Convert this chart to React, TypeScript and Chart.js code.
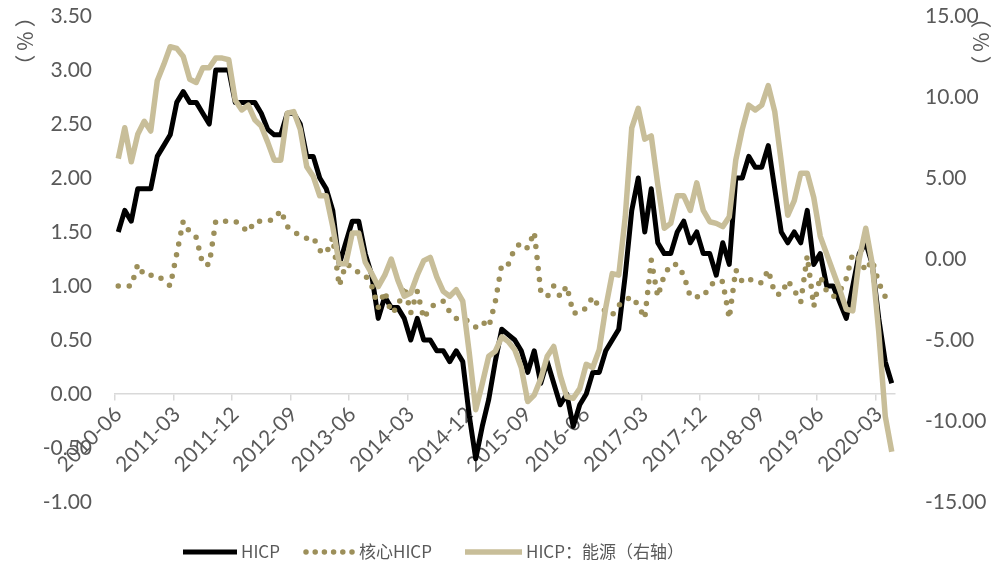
import React, { useEffect, useRef } from "react";
import { Chart, registerables } from "chart.js";

Chart.register(...registerables);

// Categories: monthly, 2010-06 .. 2020-05
const months = [
  "2010-06", "2010-07", "2010-08", "2010-09", "2010-10", "2010-11", "2010-12",
  "2011-01", "2011-02", "2011-03", "2011-04", "2011-05", "2011-06", "2011-07", "2011-08", "2011-09", "2011-10", "2011-11", "2011-12",
  "2012-01", "2012-02", "2012-03", "2012-04", "2012-05", "2012-06", "2012-07", "2012-08", "2012-09", "2012-10", "2012-11", "2012-12",
  "2013-01", "2013-02", "2013-03", "2013-04", "2013-05", "2013-06", "2013-07", "2013-08", "2013-09", "2013-10", "2013-11", "2013-12",
  "2014-01", "2014-02", "2014-03", "2014-04", "2014-05", "2014-06", "2014-07", "2014-08", "2014-09", "2014-10", "2014-11", "2014-12",
  "2015-01", "2015-02", "2015-03", "2015-04", "2015-05", "2015-06", "2015-07", "2015-08", "2015-09", "2015-10", "2015-11", "2015-12",
  "2016-01", "2016-02", "2016-03", "2016-04", "2016-05", "2016-06", "2016-07", "2016-08", "2016-09", "2016-10", "2016-11", "2016-12",
  "2017-01", "2017-02", "2017-03", "2017-04", "2017-05", "2017-06", "2017-07", "2017-08", "2017-09", "2017-10", "2017-11", "2017-12",
  "2018-01", "2018-02", "2018-03", "2018-04", "2018-05", "2018-06", "2018-07", "2018-08", "2018-09", "2018-10", "2018-11", "2018-12",
  "2019-01", "2019-02", "2019-03", "2019-04", "2019-05", "2019-06", "2019-07", "2019-08", "2019-09", "2019-10", "2019-11", "2019-12",
  "2020-01", "2020-02", "2020-03", "2020-04", "2020-05",
];

// HICP, % (left axis)
const hicp = [
  1.5, 1.7, 1.6, 1.9, 1.9, 1.9, 2.2,
  2.3, 2.4, 2.7, 2.8, 2.7, 2.7, 2.6, 2.5, 3.0, 3.0, 3.0, 2.7,
  2.7, 2.7, 2.7, 2.6, 2.45, 2.4, 2.4, 2.6, 2.6, 2.5, 2.2, 2.2,
  2.0, 1.9, 1.7, 1.2, 1.4, 1.6, 1.6, 1.3, 1.1, 0.7, 0.9, 0.8,
  0.8, 0.7, 0.5, 0.7, 0.5, 0.5, 0.4, 0.4, 0.3, 0.4, 0.3, -0.2,
  -0.6, -0.3, -0.05, 0.3, 0.6, 0.55, 0.5, 0.4, 0.2, 0.4, 0.1, 0.3,
  0.1, -0.1, 0.0, -0.3, -0.1, 0.0, 0.2, 0.2, 0.4, 0.5, 0.6, 1.1,
  1.7, 2.0, 1.5, 1.9, 1.4, 1.3, 1.3, 1.5, 1.6, 1.4, 1.5, 1.3,
  1.3, 1.1, 1.4, 1.2, 2.0, 2.0, 2.2, 2.1, 2.1, 2.3, 1.9, 1.5,
  1.4, 1.5, 1.4, 1.7, 1.2, 1.3, 1.0, 1.0, 0.85, 0.7, 1.0, 1.3,
  1.4, 1.2, 0.7, 0.3, 0.1,
];

// Core HICP, % (left axis)
const coreHicp = [
  1.0, 1.0, 1.0, 1.2, 1.1, 1.1, 1.1,
  1.05, 1.0, 1.3, 1.6, 1.5, 1.45, 1.2, 1.2, 1.6, 1.6, 1.6, 1.6,
  1.55, 1.5, 1.6, 1.6, 1.6, 1.62, 1.7, 1.55, 1.5, 1.47, 1.44, 1.45,
  1.33, 1.3, 1.45, 1.0, 1.2, 1.18, 1.12, 1.1, 1.0, 0.8, 0.95, 0.75,
  0.8, 1.0, 0.75, 0.95, 0.7, 0.8, 0.84, 0.86, 0.76, 0.7, 0.7, 0.67,
  0.62, 0.67, 0.62, 0.85, 1.2, 1.2, 1.35, 1.4, 1.35, 1.5, 0.95, 0.9,
  1.0, 0.9, 1.0, 0.75, 0.75, 0.8, 0.9, 0.8, 0.77, 0.73, 0.82, 0.87,
  0.9, 0.82, 0.7, 1.24, 0.9, 1.1, 1.2, 1.2, 1.1, 0.9, 0.9, 0.9,
  1.0, 1.05, 1.04, 0.7, 1.15, 1.04, 1.07, 1.03, 1.03, 1.15, 0.93, 0.92,
  1.05, 0.96, 0.85, 1.28, 0.81, 1.09, 0.95, 0.9, 0.95, 1.07, 1.3, 1.25,
  1.14, 1.24, 1.03, 0.9, 0.9,
];

// HICP: energy, % (right axis)
const energy = [
  6.2, 8.1, 6.0, 7.7, 8.5, 7.9, 11.0,
  12.0, 13.1, 13.0, 12.5, 11.1, 10.9, 11.8, 11.8, 12.4, 12.4, 12.3, 9.8,
  9.2, 9.5, 8.6, 8.2, 7.2, 6.1, 6.1, 9.0, 9.1, 8.0, 5.7, 5.1,
  3.9, 3.9, 2.0, -0.3, -0.3, 1.6, 1.6, -0.2, -0.9, -1.7, -1.0, 0.0,
  -1.3, -2.3, -2.1, -1.0, -0.1, 0.1, -1.1, -2.0, -2.3, -1.9, -2.6, -5.8,
  -9.3, -7.7, -6.0, -5.7, -4.8, -5.1, -5.6, -6.7, -8.8, -8.4, -7.4, -6.0,
  -5.4, -7.2, -8.5, -8.6, -8.0, -6.5, -6.7, -5.6, -3.0, -0.9, -1.0, 2.6,
  8.1, 9.3, 7.4, 7.6, 4.6, 1.9, 2.2, 3.9, 3.9, 3.0, 4.7, 3.0,
  2.3, 2.2, 2.0, 2.6, 6.1, 8.0, 9.5, 9.2, 9.5, 10.7, 9.1, 6.0,
  2.7, 3.6, 5.3, 5.3, 3.8, 1.4, 0.3, -0.8, -1.9, -3.1, -3.2, 0.0,
  1.9, -0.3, -4.5, -9.7, -11.9,
];

const seriesNames = ["HICP", "核心HICP", "HICP：能源（右轴）"];
const axisUnit = "（%）";

const BLACK = "#000000";
const OLIVE = "#9C8F5A";
const BEIGE = "#C8BE99";
const TEXT = "#595959";
const AXIS = "#D9D9D9";
const CLEAR = "rgba(0,0,0,0)";

const overlayPlugin = {
  id: "overlay",
  afterDraw(chart: any) {
    const ctx: any = chart.ctx;
    const ds = chart.data.datasets;
    ctx.save();
    // axis unit titles
    ctx.fillStyle = TEXT;
    ctx.font = '21px "Noto Sans CJK SC"';
    ctx.textAlign = "center";
    ctx.textBaseline = "middle";
    if ("letterSpacing" in ctx) ctx.letterSpacing = "4px";
    [[25, 41], [981, 42]].forEach(([cx, cy]) => {
      ctx.save();
      ctx.translate(cx, cy);
      ctx.rotate(-Math.PI / 2);
      ctx.fillText(axisUnit, 2, 0);
      ctx.restore();
    });
    if ("letterSpacing" in ctx) ctx.letterSpacing = "0px";

    // legend
    const ly = 552;
    const items = [
      { d: ds[0], x0: 183, x1: 237, tx: 241 },
      { d: ds[1], x0: 306, x1: 352, tx: 359 },
      { d: ds[2], x0: 465, x1: 522, tx: 526 },
    ];
    ctx.textAlign = "left";
    ctx.font = '17px "Noto Sans CJK SC"';
    items.forEach((it) => {
      const dotted = it.d.borderDash && it.d.borderDash.length;
      ctx.save();
      ctx.strokeStyle = it.d.borderColor;
      ctx.lineWidth = it.d.borderWidth;
      ctx.lineCap = dotted ? "round" : "butt";
      ctx.setLineDash(dotted ? [0, 9.2] : []);
      ctx.beginPath();
      ctx.moveTo(it.x0, ly);
      ctx.lineTo(it.x1, ly);
      ctx.stroke();
      ctx.restore();
      ctx.fillStyle = TEXT;
      ctx.fillText(it.d.label, it.tx, ly);
    });
    ctx.restore();
  },
};

export default function App() {
  const ref = useRef<HTMLCanvasElement>(null);

  useEffect(() => {
    if (!ref.current) return;
    const tickFont = { family: "Lato", size: 21 };
    const chart = new Chart(ref.current, {
      type: "line",
      data: {
        labels: months,
        datasets: [
          {
            label: seriesNames[0],
            data: hicp,
            yAxisID: "y",
            borderColor: BLACK,
            backgroundColor: BLACK,
            borderWidth: 5,
            pointRadius: 0,
            tension: 0,
            borderJoinStyle: "round",
            order: 3,
          },
          {
            label: seriesNames[1],
            data: coreHicp,
            yAxisID: "y",
            borderColor: OLIVE,
            backgroundColor: OLIVE,
            borderWidth: 5.5,
            borderDash: [0, 11],
            borderCapStyle: "round",
            pointRadius: 0,
            tension: 0,
            order: 2,
          },
          {
            label: seriesNames[2],
            data: energy,
            yAxisID: "y1",
            borderColor: BEIGE,
            backgroundColor: BEIGE,
            borderWidth: 5.5,
            pointRadius: 0,
            tension: 0,
            borderJoinStyle: "round",
            order: 1,
          },
        ],
      },
      options: {
        responsive: false,
        animation: false,
        events: [],
        layout: { padding: { top: 16, bottom: 64, left: 0, right: 0 } },
        plugins: {
          legend: { display: false },
          tooltip: { enabled: false },
        },
        scales: {
          x: {
            type: "category",
            position: { y: 0 } as any,
            offset: true,
            grid: {
              offset: true,
              drawOnChartArea: false,
              drawTicks: true,
              tickLength: 6,
              lineWidth: 1.5,
              color: (c: any) => (c.index !== undefined && c.index % 9 === 0 ? AXIS : CLEAR),
            },
            border: { display: true, color: AXIS, width: 1.5 },
            ticks: {
              autoSkip: false,
              minRotation: 45,
              maxRotation: 45,
              padding: 2,
              color: TEXT,
              font: tickFont,
              callback: (_v: any, i: number) => (i % 9 === 0 ? months[i] : ""),
            },
          },
          y: {
            position: "left",
            min: -1,
            max: 3.5,
            grid: { display: true, drawOnChartArea: false, drawTicks: true, tickLength: 23, color: CLEAR },
            border: { display: false },
            ticks: {
              stepSize: 0.5,
              padding: 0,
              color: TEXT,
              font: tickFont,
              callback: (v: any) => Number(v).toFixed(2),
            },
            afterFit: (s: any) => {
              s.width = 115;
            },
          },
          y1: {
            position: "right",
            min: -15,
            max: 15,
            grid: { display: true, drawOnChartArea: false, drawTicks: true, tickLength: 30, color: CLEAR },
            border: { display: false },
            ticks: {
              stepSize: 5,
              padding: 0,
              color: TEXT,
              font: tickFont,
              callback: (v: any) => Number(v).toFixed(2),
            },
            afterFit: (s: any) => {
              s.width = 100;
            },
          },
        },
      },
      plugins: [overlayPlugin],
    });
    return () => chart.destroy();
  }, []);

  return (
    <div style={{ position: "absolute", left: 0, top: 0, width: 995, height: 566, background: "#fff" }}>
      <canvas ref={ref} width={995} height={566} style={{ display: "block" }} />
    </div>
  );
}
